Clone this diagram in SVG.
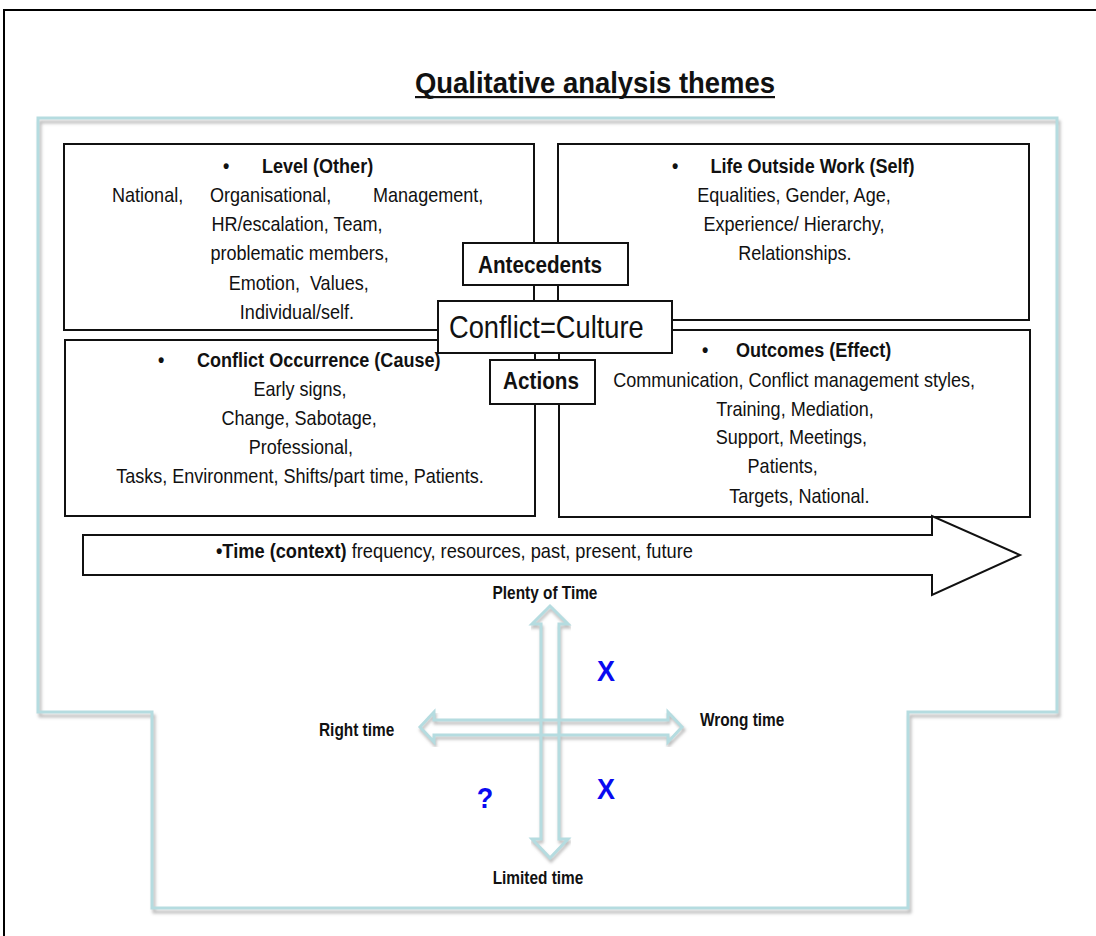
<svg xmlns="http://www.w3.org/2000/svg" width="1096" height="936" viewBox="0 0 1096 936">
<style>
.t{font-family:"Liberation Sans",Arial,sans-serif;font-size:20.5px;fill:#111}
.b{font-weight:bold}
.c{text-anchor:middle}
.box{fill:#fff;stroke:#111;stroke-width:2}
.blue{fill:none;stroke:#b5dce0;stroke-width:3}
.shadow{fill:none;stroke:#bcbcbc;stroke-width:3}
.mark{font-family:"Liberation Sans",Arial,sans-serif;font-weight:bold;font-size:30px;fill:#0a0af0;text-anchor:middle}
.lab{font-family:"Liberation Sans",Arial,sans-serif;font-weight:bold;font-size:17.5px;fill:#111}
</style>
<defs>
<filter id="blur" x="-5%" y="-5%" width="110%" height="110%"><feGaussianBlur stdDeviation="1.5"/></filter>
</defs>
<rect width="1096" height="936" fill="#fff"/>
<rect x="4" y="10" width="1100" height="940" fill="none" stroke="#000" stroke-width="2"/>
<g id="title">
<text class="t b c" x="595" y="93" style="font-size:30px" transform="matrix(0.915 0 0 1 50.575 0)">Qualitative analysis themes</text>
<rect x="415" y="96" width="360" height="2.2" fill="#111"/>
</g>
<g id="container">
<path class="shadow" filter="url(#blur)" d="M40,122 H1059 V716 H910 V912 H154 V716 H40 Z"/>
<path class="blue" d="M38,118 H1057 V712 H908 V908 H152 V712 H38 Z"/>
</g>
<g id="level">
<rect class="box" x="64" y="144" width="470" height="186"/>
<g transform="matrix(0.88 0 0 1 35.64 0)">
<text class="t b" x="212.9" y="173">•</text>
<text class="t b" x="257.2" y="173">Level (Other)</text>
<text class="t" x="86.8" y="202">National,</text>
<text class="t" x="198.2" y="202">Organisational,</text>
<text class="t" x="383.4" y="202">Management,</text>
<text class="t c" x="297" y="231">HR/escalation, Team,</text>
<text class="t c" x="300" y="260">problematic members,</text>
<text class="t c" x="299" y="290" xml:space="preserve">Emotion,  Values,</text>
<text class="t c" x="297" y="319">Individual/self.</text>
</g>
</g>
<g id="life">
<rect class="box" x="558" y="144" width="471" height="176"/>
<g transform="matrix(0.88 0 0 1 95.28 0)">
<text class="t b" x="655.4" y="173">•</text>
<text class="t b" x="699.1" y="173">Life Outside Work (Self)</text>
<text class="t c" x="794" y="202">Equalities, Gender, Age,</text>
<text class="t c" x="794" y="231">Experience/ Hierarchy,</text>
<text class="t c" x="795" y="260">Relationships.</text>
</g>
</g>
<g id="occurrence">
<rect class="box" x="65" y="340" width="470" height="176"/>
<g transform="matrix(0.88 0 0 1 36 0)">
<text class="t b" x="138.6" y="367">•</text>
<text class="t b" x="183" y="367">Conflict Occurrence (Cause)</text>
<text class="t c" x="300" y="396">Early signs,</text>
<text class="t c" x="299" y="425">Change, Sabotage,</text>
<text class="t c" x="301" y="454">Professional,</text>
<text class="t c" x="300" y="483">Tasks, Environment, Shifts/part time, Patients.</text>
</g>
</g>
<g id="outcomes">
<rect class="box" x="559" y="330" width="471" height="187"/>
<g transform="matrix(0.88 0 0 1 95.4 0)">
<text class="t b" x="689.3" y="357">•</text>
<text class="t b" x="728" y="357">Outcomes (Effect)</text>
<text class="t c" x="794" y="387">Communication, Conflict management styles,</text>
<text class="t c" x="795" y="416">Training, Mediation,</text>
<text class="t c" x="791" y="444">Support, Meetings,</text>
<text class="t c" x="781" y="473">Patients,</text>
<text class="t c" x="800" y="503">Targets, National.</text>
</g>
</g>
<g id="antecedents">
<rect class="box" x="463" y="243" width="165" height="42"/>
<text class="t b c" x="540" y="273" style="font-size:23.5px" transform="matrix(0.88 0 0 1 64.8 0)">Antecedents</text>
</g>
<g id="conflict-culture">
<rect class="box" x="438" y="301" width="234" height="52"/>
<text class="t" x="449" y="338" style="font-size:31px" transform="matrix(0.88 0 0 1 53.88 0)">Conflict=Culture</text>
</g>
<g id="actions">
<rect class="box" x="490" y="360" width="105" height="44"/>
<text class="t b c" x="541" y="389" style="font-size:23.5px" transform="matrix(0.88 0 0 1 64.92 0)">Actions</text>
</g>
<g id="time">
<polygon points="83,535 932,535 932,516 1020,555 932,595 932,575 83,575" fill="#fff" stroke="#111" stroke-width="2"/>
<text class="t" x="216" y="558" transform="matrix(0.89 0 0 1 23.76 0)"><tspan class="b">•Time (context)</tspan> frequency, resources, past, present, future</text>
</g>
<g id="connectors">
<path class="shadow" filter="url(#blur)" d="M551,609 L569,627 H560 V842 H569 L551,861 L533,842 H542 V627 H533 Z"/>
<path class="shadow" filter="url(#blur)" d="M421,730 L435,715 V723 H669 V715 L684,730 L669,745 V738 H435 V745 Z"/>
<path class="blue" d="M550,606 L568,624 H559 V839 H568 L550,858 L532,839 H541 V624 H532 Z"/>
<path class="blue" d="M420,727 L434,712 V720 H668 V712 L682,727 L668,742 V735 H434 V742 Z"/>
</g>
<g id="axis-labels">
<text class="lab c" x="545" y="599" transform="matrix(0.88 0 0 1 65.4 0)">Plenty of Time</text>
<text class="lab c" x="538" y="884" transform="matrix(0.88 0 0 1 64.56 0)">Limited time</text>
<text class="lab" x="319" y="736" transform="matrix(0.88 0 0 1 38.28 0)">Right time</text>
<text class="lab" x="700" y="726" transform="matrix(0.88 0 0 1 84 0)">Wrong time</text>
</g>
<g id="marks">
<text class="mark" x="606" y="681" transform="matrix(0.9 0 0 1 60.6 0)">X</text>
<text class="mark" x="606" y="799" transform="matrix(0.9 0 0 1 60.6 0)">X</text>
<text class="mark" x="485" y="808" transform="matrix(0.9 0 0 1 48.5 0)">?</text>
</g>
</svg>
